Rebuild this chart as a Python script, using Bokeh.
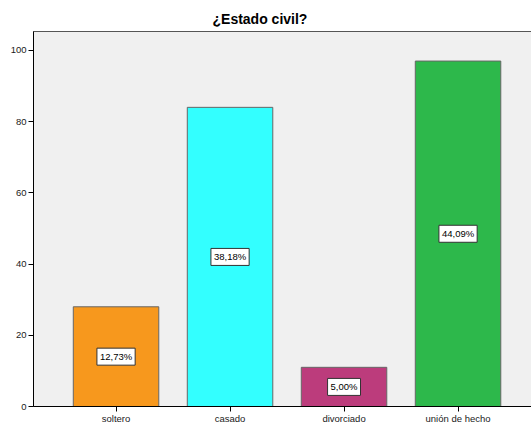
from bokeh.plotting import figure
from bokeh.models import Range1d, FixedTicker, ColumnDataSource
from bokeh.core.properties import value
from bokeh.embed import file_html
from bokeh.resources import INLINE

categories = ["soltero", "casado", "divorciado", "unión de hecho"]
counts = [28, 84, 11, 97]
pct_labels = ["12,73%", "38,18%", "5,00%", "44,09%"]
colors = ["#F7981D", "#33FFFF", "#BC3C7C", "#2DB84B"]
y_ticks = [0, 20, 40, 60, 80, 100]

xs = [i + 0.5 for i in range(len(categories))]
src = ColumnDataSource(dict(
    x=xs, top=counts, mid=[c / 2 for c in counts],
    color=colors, label=pct_labels,
))

FONT = "Liberation Sans"

p = figure(
    frame_width=506, frame_height=375,
    x_range=Range1d(-0.224, -0.224 + 506 / 114), y_range=Range1d(0, 105.3),
    output_backend="svg", toolbar_location=None,
    min_border_left=33, min_border_right=0, min_border_top=31, min_border_bottom=0,
    title="¿Estado civil?",
)
p.title.text_font = FONT
p.title.text_font_size = "14px"
p.title.text_font_style = "bold"
p.title.text_color = "#000000"
p.title.align = "left"
p.title.offset = 179
p.title.standoff = 9

p.background_fill_color = "#F0F0F0"
p.border_fill_color = "#FFFFFF"
p.outline_line_color = "#555555"
p.outline_line_width = 1
p.xgrid.visible = False
p.ygrid.visible = False

p.vbar(x="x", top="top", bottom=0, width=0.75, fill_color="color",
       line_color="#666666", line_width=1, source=src)

p.text(x="x", y="mid", text="label", source=src,
       text_font=value(FONT), text_font_size="9.5px", text_color="#000000",
       text_align="center", text_baseline="middle",
       background_fill_color="#FFFFFF", border_line_color="#333333",
       border_line_width=1, padding=3)

for ax in (p.xaxis[0], p.yaxis[0]):
    ax.axis_line_color = "#000000"
    ax.major_tick_line_color = "#000000"
    ax.major_tick_out = 5
    ax.major_tick_in = 0
    ax.minor_tick_line_color = None
    ax.major_label_text_font = FONT
    ax.major_label_text_font_size = "9.5px"
    ax.major_label_text_color = "#1a1a1a"
    ax.major_label_standoff = 2

p.yaxis[0].ticker = FixedTicker(ticks=y_ticks)
p.xaxis[0].ticker = FixedTicker(ticks=xs)
p.xaxis[0].major_label_overrides = {x: c for x, c in zip(xs, categories)}
p.xaxis[0].major_label_standoff = 1

open("out.html", "w").write(file_html(p, INLINE))
